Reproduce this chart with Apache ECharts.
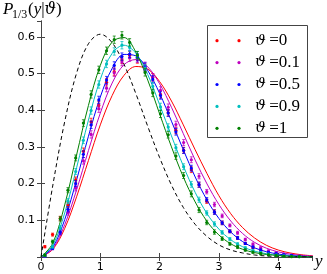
<!DOCTYPE html>
<html><head><meta charset="utf-8">
<script src="https://cdn.jsdelivr.net/npm/echarts@6/dist/echarts.min.js"></script>
<style>html,body{margin:0;padding:0;background:#fff}#c{width:327px;height:274px}</style>
</head><body><div id="c"></div>
<script>
// curve sample abscissae
const xs = [0,0.2,0.4,0.6,0.8,1.0,1.2,1.4,1.6,1.8,2.0,2.2,2.4,2.6,2.8,3.0,3.2,3.4,3.6,3.8,4.0,4.2,4.4,4.6];
const redCurve     = [0,0.021,0.078,0.164,0.263,0.36,0.44,0.495,0.519,0.512,0.478,0.425,0.36,0.292,0.227,0.167,0.118,0.08,0.052,0.032,0.019,0.011,0.006,0.003];
const magentaCurve = [0,0.023,0.088,0.183,0.29,0.392,0.474,0.524,0.538,0.518,0.472,0.408,0.336,0.264,0.199,0.143,0.098,0.064,0.04,0.024,0.014,0.0078,0.0042,0.0022];
const blueCurve    = [0,0.027,0.102,0.21,0.329,0.436,0.514,0.552,0.548,0.508,0.446,0.37,0.292,0.218,0.155,0.105,0.068,0.042,0.025,0.0145,0.008,0.0043,0.0022,0.0011];
const cyanCurve    = [0,0.032,0.12,0.243,0.373,0.484,0.555,0.577,0.555,0.497,0.415,0.33,0.248,0.176,0.118,0.076,0.047,0.028,0.016,0.009,0.005,0.0027,0.0014,0.0007];
const greenCurve   = [0,0.038,0.142,0.278,0.413,0.522,0.586,0.598,0.558,0.482,0.39,0.30,0.218,0.15,0.097,0.06,0.036,0.021,0.012,0.007,0.004,0.002,0.001,0.0005];
const dashedCurve  = [0,0.196,0.369,0.501,0.581,0.607,0.584,0.525,0.445,0.356,0.271,0.196,0.135,0.089,0.056,0.033,0.019,0.011,0.0055,0.0028,0.0013,0.0006,0.0003,0.0001];

// histogram points
const binCenters = [0.065,0.195,0.325,0.455,0.585,0.715,0.845,0.975,1.105,1.235,1.365,1.495,1.625,1.755,1.885,2.015,2.145,2.275,2.405,2.535,2.665,2.795,2.925,3.055,3.185,3.315,3.445,3.575,3.705,3.835,3.965,4.095,4.225,4.355];
const redPts     = [0.028,0.061,0.105,0.142,0.21,0.288,0.368,0.413,0.476,0.505,0.537,0.55,0.538,0.516,0.49,0.443,0.393,0.345,0.291,0.238,0.197,0.152,0.123,0.093,0.07,0.052,0.037,0.026,0.018,0.012,0.008,0.005,0.003,0.002];
const magentaPts = [0.003,0.024,0.065,0.121,0.188,0.262,0.334,0.404,0.46,0.502,0.531,0.543,0.54,0.521,0.49,0.454,0.408,0.361,0.312,0.265,0.22,0.178,0.143,0.112,0.086,0.066,0.048,0.035,0.025,0.017,0.012,0.008,0.005,0.003];
const bluePts    = [0.003,0.024,0.068,0.13,0.2,0.28,0.36,0.428,0.482,0.522,0.546,0.553,0.544,0.519,0.484,0.44,0.392,0.341,0.29,0.242,0.197,0.156,0.122,0.093,0.07,0.052,0.037,0.027,0.019,0.013,0.009,0.006,0.004,0.002];
const cyanPts    = [0.004,0.028,0.08,0.152,0.233,0.318,0.399,0.47,0.526,0.56,0.577,0.571,0.55,0.514,0.465,0.409,0.354,0.298,0.246,0.198,0.156,0.12,0.09,0.067,0.049,0.035,0.025,0.017,0.012,0.008,0.005,0.003,0.002,0.001];
const greenPts   = [0.005,0.042,0.104,0.182,0.27,0.365,0.443,0.51,0.562,0.592,0.604,0.585,0.55,0.503,0.447,0.39,0.333,0.275,0.222,0.172,0.128,0.094,0.068,0.05,0.036,0.027,0.019,0.013,0.009,0.006,0.004,0.002,0.001,0.001];
const errBars    = [0.003,0.004,0.006,0.007,0.008,0.009,0.01,0.01,0.01,0.01,0.01,0.01,0.01,0.01,0.01,0.01,0.009,0.009,0.008,0.008,0.007,0.006,0.006,0.005,0.004,0.004,0.003,0.003,0.003,0.002,0.002,0.002,0.002,0.002];

const legendLabels = ['0','0.1','0.5','0.9','1'];
const xTicks = [0,1,2,3,4];
const yTicks = [0.1,0.2,0.3,0.4,0.5,0.6];

const colors = ['#ff0000','#bf00bf','#0000ff','#00bfbf','#008000'];
const curves = [redCurve, magentaCurve, blueCurve, cyanCurve, greenCurve];
const pts = [redPts, magentaPts, bluePts, cyanPts, greenPts];

const X_MAX = 4.57, Y_MAX = 0.643;
const chart = echarts.init(document.getElementById('c'));
const axisCol = '#444';

function lineSeries(arr, color, extra) {
  return Object.assign({
    type: 'line', xAxisIndex: 0, yAxisIndex: 0,
    data: xs.map((x, i) => [x, arr[i]]),
    showSymbol: false, smooth: 0.35, silent: true, animation: false,
    lineStyle: { color: color, width: 1 }, z: 2
  }, extra || {});
}
function ptSeries(arr, color) {
  return {
    type: 'custom', xAxisIndex: 0, yAxisIndex: 0, animation: false, silent: true, z: 3,
    data: binCenters.map((x, i) => [x, arr[i], errBars[i]]),
    renderItem: function (params, api) {
      const x = api.value(0), y = api.value(1), e = api.value(2);
      const c = api.coord([x, y]);
      const t = api.coord([x, y + e]);
      const b = api.coord([x, Math.max(y - e, 0)]);
      const st = { stroke: color, lineWidth: 1, opacity: 0.75 };
      return {
        type: 'group', children: [
          { type: 'line', shape: { x1: c[0], y1: t[1], x2: c[0], y2: b[1] }, style: st },
          { type: 'line', shape: { x1: c[0] - 1.5, y1: t[1], x2: c[0] + 1.5, y2: t[1] }, style: st },
          { type: 'line', shape: { x1: c[0] - 1.5, y1: b[1], x2: c[0] + 1.5, y2: b[1] }, style: st },
          { type: 'circle', shape: { cx: c[0], cy: c[1], r: 1.6 }, style: { fill: color } }
        ]
      };
    }
  };
}

const series = [];
curves.forEach((c, i) => series.push(lineSeries(c, colors[i])));
series.push(lineSeries(dashedCurve, '#000', { lineStyle: { color: '#000', width: 1, type: [4, 3] } }));
pts.forEach((p, i) => series.push(ptSeries(p, colors[i])));

const tickFont = { fontFamily: 'DejaVu Sans', fontSize: 11, color: '#000' };
const baseX = { type: 'value', min: 0, max: X_MAX, interval: 1, splitLine: { show: false },
  axisLine: { show: true, lineStyle: { color: axisCol, width: 1 } },
  axisTick: { show: true, inside: true, length: 4, lineStyle: { color: axisCol } } };
const baseY = { type: 'value', min: 0, max: Y_MAX, interval: 0.1, splitLine: { show: false },
  axisLine: { show: true, lineStyle: { color: axisCol, width: 1 } },
  axisTick: { show: true, inside: true, length: 4, lineStyle: { color: axisCol } } };

// legend drawn as graphics
const legendEls = [{ type: 'rect', shape: { x: 207.5, y: 25.5, width: 100, height: 112 },
  style: { fill: '#fff', stroke: axisCol, lineWidth: 1 }, z: 10 }];
legendLabels.forEach((lab, i) => {
  const cy = 40.7 + 21.9 * i;
  legendEls.push({ type: 'circle', shape: { cx: 217, cy: cy, r: 1.6 }, style: { fill: colors[i] }, z: 11 });
  legendEls.push({ type: 'circle', shape: { cx: 239, cy: cy, r: 1.6 }, style: { fill: colors[i] }, z: 11 });
  legendEls.push({ type: 'text', x: 255, y: cy, z: 11, style: {
    text: '{i|ϑ}{n|\u2009=' + lab + '}', verticalAlign: 'middle', align: 'left',
    rich: { i: { fontFamily: 'DejaVu Serif', fontStyle: 'italic', fontSize: 15, fill: '#000' },
            n: { fontFamily: 'Liberation Serif', fontSize: 17, fill: '#000' } } } });
});

chart.setOption({
  animation: false,
  grid: { left: 41, top: 21, right: 15, bottom: 17, containLabel: false },
  xAxis: [
    Object.assign({}, baseX, { position: 'bottom',
      axisLabel: Object.assign({ margin: 5, showMaxLabel: false,
        formatter: v => (xTicks.indexOf(v) >= 0 ? String(v) : '') }, tickFont) }),
    Object.assign({}, baseX, { position: 'top', axisLabel: { show: false } })
  ],
  yAxis: [
    Object.assign({}, baseY, { position: 'left',
      axisLabel: Object.assign({ margin: 6, showMaxLabel: false, showMinLabel: false,
        formatter: v => { const f = Math.round(v * 10) / 10; return yTicks.indexOf(f) >= 0 && Math.abs(v - f) < 1e-6 ? f.toFixed(1) : ''; } }, tickFont) }),
    Object.assign({}, baseY, { position: 'right', axisLabel: { show: false } })
  ],
  series: series,
  graphic: legendEls.concat([
    { type: 'text', x: 3, y: 1, style: { text: 'P', fontFamily: 'Liberation Serif', fontStyle: 'italic', fontSize: 17, fill: '#000' } },
    { type: 'text', x: 12, y: 9, style: { text: '1/3', fontFamily: 'Liberation Serif', fontSize: 12, fill: '#000' } },
    { type: 'text', x: 28, y: 1, style: { text: '{n|(}{i|y}{n||}{g|ϑ}{n|)}',
      rich: { n: { fontFamily: 'Liberation Serif', fontSize: 17, fill: '#000' },
              i: { fontFamily: 'Liberation Serif', fontStyle: 'italic', fontSize: 17, fill: '#000' },
              g: { fontFamily: 'DejaVu Serif', fontStyle: 'italic', fontSize: 16, fill: '#000' } } } },
    { type: 'text', x: 315, y: 253, style: { text: 'y', fontFamily: 'Liberation Serif', fontStyle: 'italic', fontSize: 17, fill: '#000' } }
  ])
});
</script></body></html>
